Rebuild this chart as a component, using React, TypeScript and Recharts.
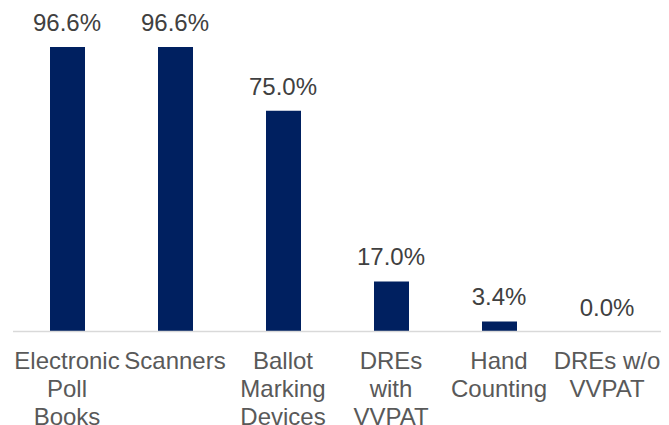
import { Bar, ComposedChart, LabelList, Line, XAxis, YAxis } from "recharts"

const categories = [
	"Electronic Poll Books",
	"Scanners",
	"Ballot Marking Devices",
	"DREs with VVPAT",
	"Hand Counting",
	"DREs w/o VVPAT",
]
const shares = [96.6, 96.6, 75.0, 17.0, 3.4, 0.0]
const tickLines = [
	["Electronic", "Poll", "Books"],
	["Scanners"],
	["Ballot", "Marking", "Devices"],
	["DREs", "with", "VVPAT"],
	["Hand", "Counting"],
	["DREs w/o", "VVPAT"],
]

const data = categories.map((name, i) => ({ name, value: shares[i] }))

const FONT = "Arial, 'Liberation Sans', sans-serif"

const CategoryTick = (props: any) => {
	const { x, y, payload } = props
	const idx = categories.indexOf(payload.value)
	const lines = tickLines[idx] ?? [payload.value]
	return (
		<g transform={`translate(${x},${y})`}>
			<text textAnchor="middle" fill="#595959" fontSize={24} fontFamily={FONT}>
				{lines.map((line, i) => (
					<tspan key={i} x={0} y={37 + i * 28}>
						{line}
					</tspan>
				))}
			</text>
		</g>
	)
}

const App = () => {
	return (
		<div style={{ position: "absolute", left: 0, top: 0, background: "#fff" }}>
			<ComposedChart
				width={669}
				height={425}
				data={data}
				margin={{ top: 37, right: 8, left: 13, bottom: 0 }}
			>
				<XAxis
					dataKey="name"
					axisLine={{ stroke: "#d9d9d9", strokeWidth: 1.5 }}
					tickLine={false}
					tickSize={0}
					tickMargin={0}
					interval={0}
					tick={<CategoryTick />}
					height={93.5}
				/>
				<YAxis hide domain={[0, 100]} />
				<Bar dataKey="value" fill="#002060" barSize={35} isAnimationActive={false} />
				<Line
					dataKey="value"
					stroke="none"
					dot={false}
					activeDot={false}
					legendType="none"
					isAnimationActive={false}
				>
					<LabelList
						dataKey="value"
						position="top"
						offset={16}
						formatter={(v: any) => `${Number(v).toFixed(1)}%`}
						fill="#404040"
						fontSize={24}
						fontFamily={FONT}
					/>
				</Line>
			</ComposedChart>
		</div>
	)
}

export default App
